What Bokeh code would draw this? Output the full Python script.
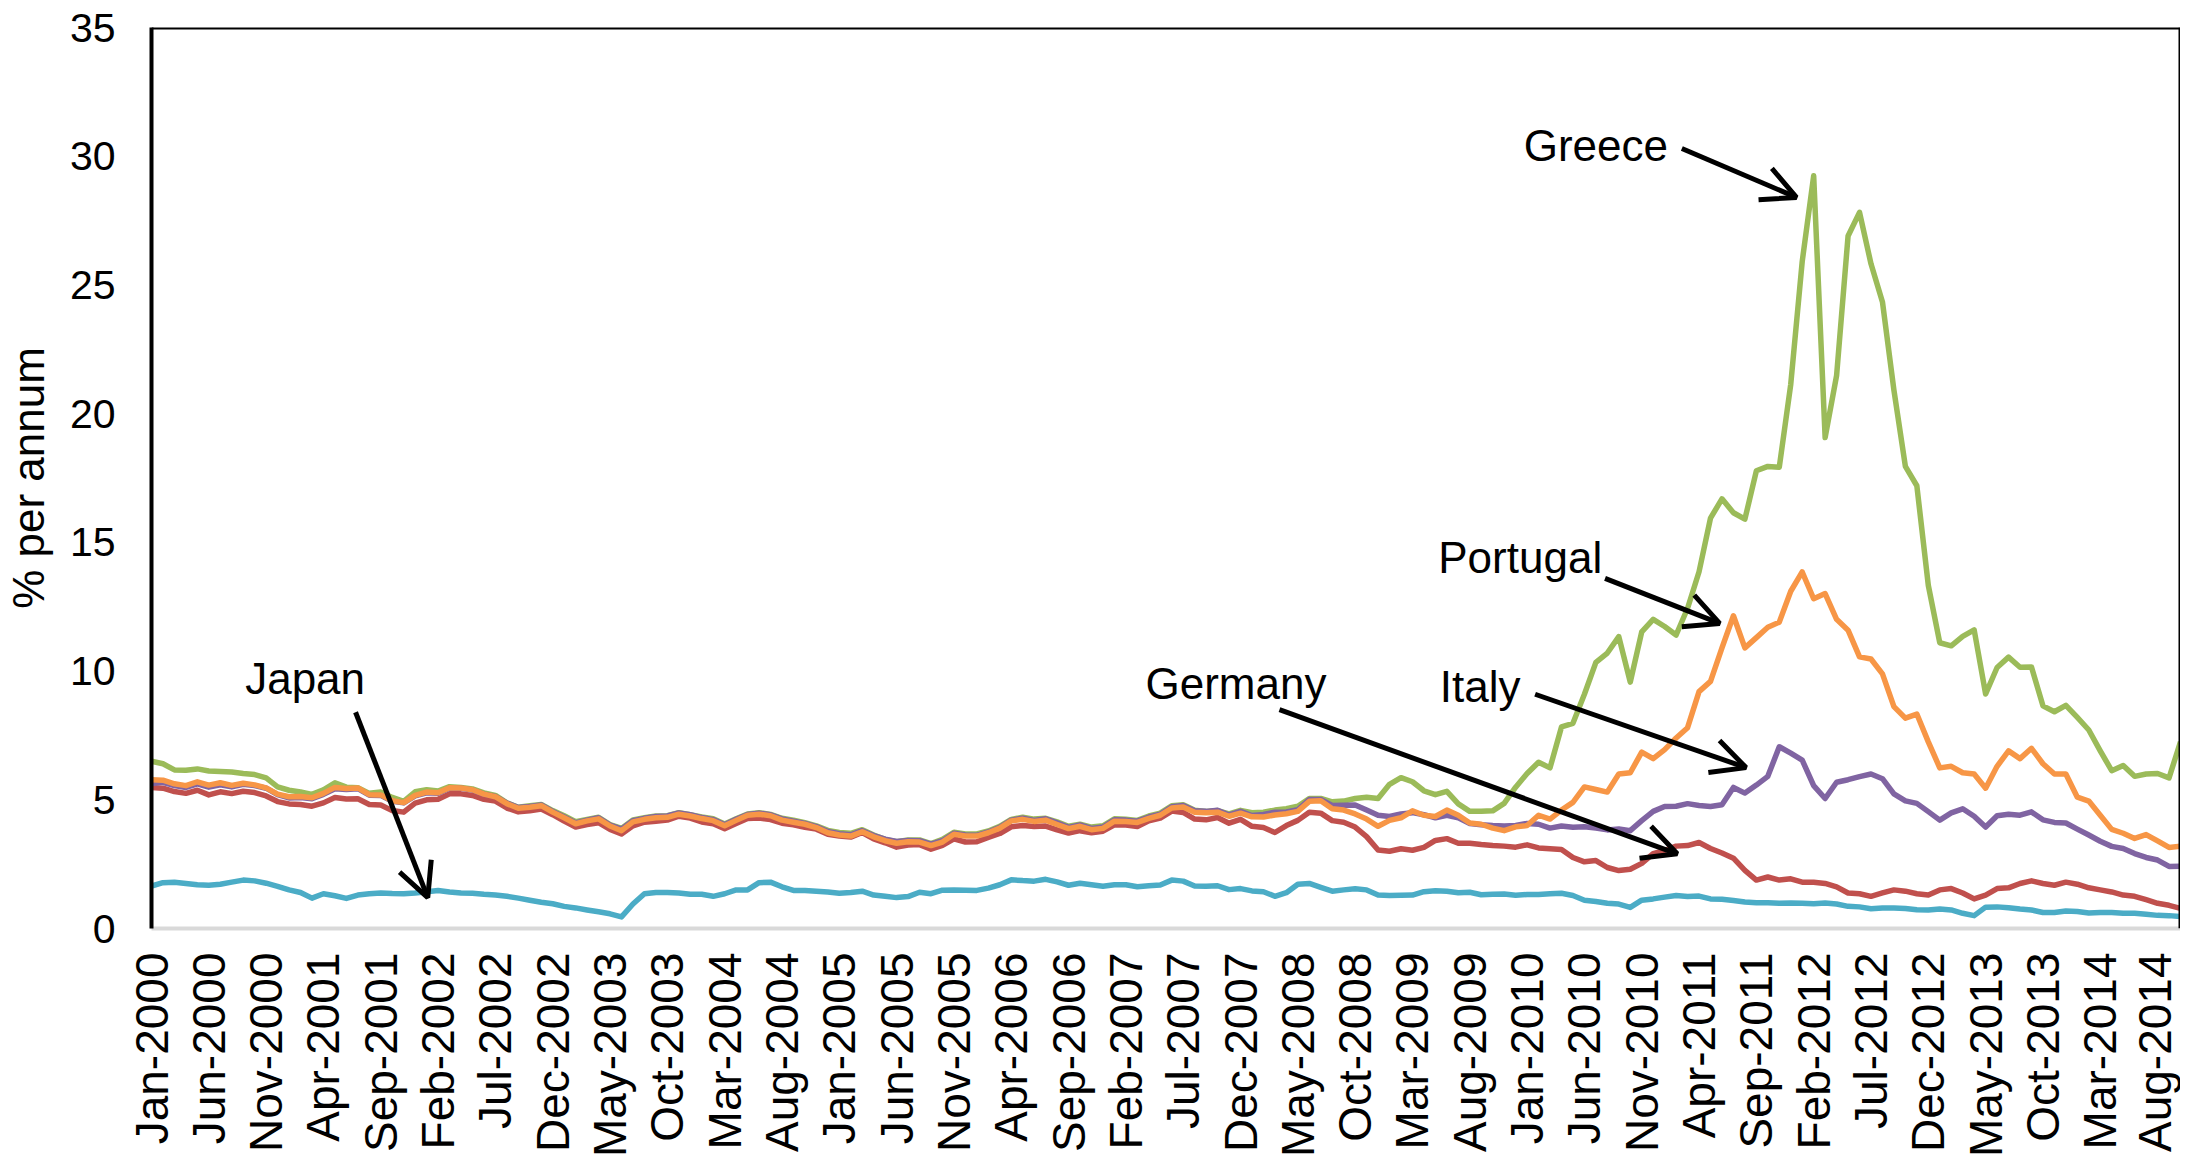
import math
import pandas as pd
from bokeh.plotting import figure
from bokeh.models import Range1d, FixedTicker, Span, Arrow, OpenHead, Label
from bokeh.core.properties import value
from bokeh.embed import file_html
from bokeh.resources import INLINE

# ---------------- data (monthly, Jan-2000 .. Oct-2014), % per annum ----------------
MONTHS = [d.strftime("%b-%Y") for d in pd.date_range("2000-01-01", "2014-10-01", freq="MS")]

GERMANY = [
    5.48, 5.45, 5.32, 5.25, 5.37, 5.19, 5.31, 5.24, 5.33, 5.28, 5.15, 4.93,
    4.84, 4.82, 4.75, 4.88, 5.09, 5.03, 5.04, 4.82, 4.80, 4.58, 4.52, 4.87,
    5.00, 5.02, 5.23, 5.23, 5.17, 5.02, 4.95, 4.68, 4.53, 4.57, 4.64, 4.42,
    4.17, 3.94, 4.04, 4.11, 3.85, 3.67, 3.99, 4.13, 4.17, 4.21, 4.36, 4.29,
    4.14, 4.07, 3.88, 4.08, 4.27, 4.29, 4.23, 4.09, 4.03, 3.93, 3.86, 3.66,
    3.59, 3.55, 3.73, 3.48, 3.33, 3.16, 3.24, 3.26, 3.08, 3.23, 3.48, 3.36,
    3.37, 3.54, 3.69, 3.95, 4.00, 3.96, 3.98, 3.83, 3.71, 3.80, 3.72, 3.78,
    4.03, 4.02, 3.96, 4.18, 4.29, 4.56, 4.51, 4.25, 4.22, 4.31, 4.09, 4.24,
    3.97, 3.92, 3.73, 4.00, 4.20, 4.52, 4.48, 4.19, 4.13, 3.94, 3.57, 3.05,
    3.00, 3.10, 3.04, 3.15, 3.42, 3.49, 3.31, 3.31, 3.26, 3.22, 3.20, 3.16,
    3.25, 3.13, 3.10, 3.07, 2.76, 2.59, 2.64, 2.37, 2.25, 2.30, 2.53, 2.91,
    3.03, 3.20, 3.22, 3.34, 3.11, 2.93, 2.73, 2.26, 1.88, 2.00, 1.88, 1.93,
    1.80, 1.80, 1.75, 1.62, 1.38, 1.35, 1.25, 1.38, 1.50, 1.45, 1.35, 1.30,
    1.50, 1.55, 1.38, 1.15, 1.30, 1.55, 1.58, 1.75, 1.85, 1.75, 1.68, 1.80,
    1.72, 1.58, 1.50, 1.42, 1.30, 1.25, 1.12, 0.98, 0.90, 0.78,
]

GREECE = [
    6.50, 6.40, 6.16, 6.15, 6.20, 6.12, 6.10, 6.08, 6.02, 5.98, 5.85, 5.50,
    5.37, 5.30, 5.21, 5.39, 5.66, 5.49, 5.47, 5.25, 5.30, 5.09, 4.94, 5.31,
    5.39, 5.34, 5.51, 5.48, 5.42, 5.27, 5.17, 4.88, 4.71, 4.77, 4.82, 4.58,
    4.38, 4.15, 4.24, 4.32, 4.04, 3.89, 4.22, 4.30, 4.37, 4.38, 4.50, 4.42,
    4.33, 4.26, 4.06, 4.26, 4.45, 4.50, 4.43, 4.28, 4.21, 4.11, 3.99, 3.81,
    3.73, 3.70, 3.84, 3.63, 3.46, 3.37, 3.44, 3.44, 3.30, 3.46, 3.74, 3.67,
    3.67, 3.79, 3.97, 4.24, 4.32, 4.25, 4.28, 4.14, 3.97, 4.05, 3.94, 3.99,
    4.26, 4.24, 4.20, 4.37, 4.48, 4.77, 4.81, 4.59, 4.55, 4.58, 4.45, 4.59,
    4.50, 4.52, 4.60, 4.65, 4.75, 5.05, 5.05, 4.92, 4.95, 5.05, 5.10, 5.05,
    5.60, 5.86, 5.70, 5.35, 5.20, 5.33, 4.84, 4.55, 4.55, 4.57, 4.86, 5.49,
    6.02, 6.46, 6.24, 7.83, 7.97, 9.10, 10.34, 10.70, 11.34, 9.57, 11.52, 12.01,
    11.73, 11.40, 12.44, 13.86, 15.94, 16.69, 16.15, 15.90, 17.78, 17.95, 17.92, 21.14,
    25.91, 29.24, 19.07, 21.48, 26.90, 27.82, 25.82, 24.34, 20.91, 17.95, 17.20, 13.33,
    11.10, 10.98, 11.35, 11.60, 9.11, 10.14, 10.54, 10.15, 10.16, 8.65, 8.42, 8.67,
    8.20, 7.71, 6.90, 6.13, 6.33, 5.91, 6.00, 6.02, 5.85, 7.25,
]

ITALY = [
    5.63, 5.68, 5.55, 5.48, 5.62, 5.49, 5.58, 5.50, 5.60, 5.55, 5.45, 5.20,
    5.07, 5.09, 5.04, 5.21, 5.43, 5.40, 5.43, 5.18, 5.17, 4.94, 4.88, 5.15,
    5.27, 5.25, 5.45, 5.45, 5.38, 5.22, 5.13, 4.87, 4.70, 4.74, 4.80, 4.55,
    4.33, 4.10, 4.21, 4.30, 4.02, 3.86, 4.19, 4.28, 4.35, 4.37, 4.49, 4.42,
    4.31, 4.23, 4.03, 4.24, 4.43, 4.48, 4.42, 4.26, 4.17, 4.08, 3.96, 3.77,
    3.68, 3.64, 3.80, 3.61, 3.47, 3.38, 3.42, 3.41, 3.28, 3.41, 3.70, 3.63,
    3.62, 3.75, 3.93, 4.21, 4.28, 4.20, 4.26, 4.10, 3.93, 4.02, 3.89, 3.94,
    4.22, 4.21, 4.17, 4.33, 4.44, 4.73, 4.78, 4.57, 4.55, 4.59, 4.41, 4.55,
    4.39, 4.43, 4.52, 4.53, 4.61, 5.01, 5.01, 4.78, 4.79, 4.80, 4.60, 4.40,
    4.35, 4.45, 4.50, 4.42, 4.30, 4.40, 4.30, 4.08, 4.03, 4.00, 3.98, 4.00,
    4.08, 4.05, 3.90, 3.98, 3.93, 3.95, 3.90, 3.83, 3.87, 3.80, 4.19, 4.55,
    4.74, 4.75, 4.85, 4.78, 4.74, 4.81, 5.48, 5.26, 5.57, 5.91, 7.06, 6.81,
    6.54, 5.55, 5.05, 5.68, 5.78, 5.90, 6.00, 5.82, 5.23, 4.96, 4.86, 4.54,
    4.21, 4.49, 4.65, 4.36, 3.94, 4.38, 4.44, 4.40, 4.53, 4.22, 4.12, 4.10,
    3.86, 3.63, 3.39, 3.19, 3.11, 2.91, 2.76, 2.66, 2.41, 2.42,
]

JAPAN = [
    1.65, 1.78, 1.80, 1.75, 1.70, 1.68, 1.72, 1.80, 1.88, 1.85, 1.76, 1.64,
    1.50, 1.40, 1.18, 1.35, 1.27, 1.17, 1.30, 1.35, 1.38, 1.36, 1.35, 1.38,
    1.43, 1.48, 1.42, 1.38, 1.37, 1.33, 1.30, 1.25, 1.18, 1.10, 1.02, 0.96,
    0.86, 0.80, 0.72, 0.65, 0.57, 0.45, 0.95, 1.35, 1.40, 1.40, 1.38, 1.33,
    1.33, 1.25, 1.35, 1.50, 1.50, 1.78, 1.80, 1.62, 1.48, 1.48, 1.45, 1.42,
    1.37, 1.40, 1.45, 1.30, 1.25, 1.20, 1.24, 1.41, 1.35, 1.49, 1.50, 1.49,
    1.48, 1.57, 1.70, 1.89, 1.86, 1.84, 1.91, 1.81, 1.68, 1.76, 1.70, 1.64,
    1.70, 1.70, 1.62, 1.66, 1.69, 1.88, 1.84, 1.65, 1.64, 1.66, 1.51, 1.55,
    1.46, 1.43, 1.25, 1.39, 1.72, 1.75, 1.60, 1.45, 1.50, 1.54, 1.50, 1.30,
    1.28, 1.29, 1.30, 1.43, 1.47, 1.45, 1.39, 1.41, 1.31, 1.33, 1.34, 1.29,
    1.32, 1.32, 1.35, 1.37, 1.28, 1.10, 1.05, 0.98, 0.95, 0.82, 1.10, 1.15,
    1.22, 1.28, 1.24, 1.26, 1.15, 1.14, 1.09, 1.03, 1.00, 1.00, 0.98, 0.99,
    0.98, 0.96, 0.99, 0.95, 0.86, 0.84, 0.77, 0.80, 0.80, 0.78, 0.73, 0.72,
    0.76, 0.72, 0.59, 0.50, 0.83, 0.84, 0.81, 0.76, 0.72, 0.62, 0.62, 0.68,
    0.66, 0.60, 0.62, 0.62, 0.59, 0.59, 0.55, 0.51, 0.50, 0.46,
]

PORTUGAL = [
    5.78, 5.76, 5.62, 5.55, 5.70, 5.57, 5.66, 5.56, 5.64, 5.58, 5.46, 5.22,
    5.12, 5.13, 5.08, 5.25, 5.48, 5.44, 5.46, 5.20, 5.19, 4.96, 4.89, 5.17,
    5.30, 5.27, 5.47, 5.46, 5.39, 5.22, 5.12, 4.85, 4.67, 4.71, 4.77, 4.52,
    4.30, 4.07, 4.18, 4.26, 3.98, 3.80, 4.14, 4.24, 4.30, 4.32, 4.44, 4.37,
    4.27, 4.19, 3.99, 4.20, 4.40, 4.44, 4.38, 4.21, 4.13, 4.05, 3.92, 3.72,
    3.63, 3.59, 3.76, 3.56, 3.41, 3.31, 3.37, 3.36, 3.22, 3.36, 3.66, 3.59,
    3.59, 3.72, 3.90, 4.18, 4.24, 4.16, 4.21, 4.04, 3.88, 3.97, 3.84, 3.89,
    4.17, 4.16, 4.12, 4.28, 4.40, 4.68, 4.72, 4.52, 4.50, 4.52, 4.36, 4.48,
    4.34, 4.33, 4.41, 4.46, 4.55, 4.94, 4.96, 4.65, 4.60, 4.45, 4.25, 3.97,
    4.20, 4.30, 4.57, 4.40, 4.35, 4.60, 4.40, 4.10, 4.05, 3.90, 3.80, 3.95,
    4.00, 4.40, 4.25, 4.60, 4.90, 5.50, 5.40, 5.30, 6.00, 6.05, 6.85, 6.60,
    6.95, 7.40, 7.80, 9.20, 9.60, 10.90, 12.15, 10.90, 11.30, 11.70, 11.90, 13.10,
    13.85, 12.81, 13.01, 12.01, 11.59, 10.55, 10.47, 9.89, 8.62, 8.17, 8.33, 7.25,
    6.24, 6.30, 6.05, 6.00, 5.45, 6.30, 6.90, 6.60, 7.00, 6.40, 6.00, 6.00,
    5.10, 4.95, 4.40, 3.85, 3.70, 3.50, 3.65, 3.40, 3.15, 3.20,
]

SERIES = [  # drawing order (last on top)
    ("Germany", GERMANY, "#C0504D"),
    ("Greece", GREECE, "#9BBB59"),
    ("Italy", ITALY, "#8064A2"),
    ("Japan", JAPAN, "#4BACC6"),
    ("Portugal", PORTUGAL, "#F79646"),
]

TICK_LABELS = [
    "Jan-2000", "Jun-2000", "Nov-2000", "Apr-2001", "Sep-2001", "Feb-2002",
    "Jul-2002", "Dec-2002", "May-2003", "Oct-2003", "Mar-2004", "Aug-2004",
    "Jan-2005", "Jun-2005", "Nov-2005", "Apr-2006", "Sep-2006", "Feb-2007",
    "Jul-2007", "Dec-2007", "May-2008", "Oct-2008", "Mar-2009", "Aug-2009",
    "Jan-2010", "Jun-2010", "Nov-2010", "Apr-2011", "Sep-2011", "Feb-2012",
    "Jul-2012", "Dec-2012", "May-2013", "Oct-2013", "Mar-2014", "Aug-2014",
]
Y_TICKS = [0, 5, 10, 15, 20, 25, 30, 35]

# ---------------- figure ----------------
FONT = "Liberation Sans"
x = list(range(len(MONTHS)))
tick_pos = [MONTHS.index(t) for t in TICK_LABELS]

p = figure(width=2180, height=1160, output_backend="svg", toolbar_location=None,
           x_range=Range1d(0, len(MONTHS) - 1), y_range=Range1d(0, 35),
           min_border_left=147, min_border_right=0, min_border_top=27,
           min_border_bottom=220)
p.grid.visible = False
p.outline_line_color = None
p.background_fill_color = "white"
p.border_fill_color = "white"

for name, vals, col in SERIES:
    p.line(x, vals, line_color=col, line_width=5.5, line_join="round")

# axes
ya = p.yaxis[0]
ya.ticker = FixedTicker(ticks=Y_TICKS)
ya.axis_line_color = "black"
ya.axis_line_width = 4
ya.major_tick_line_color = None
ya.minor_tick_line_color = None
ya.major_tick_out = 0
ya.major_tick_in = 0
ya.major_label_text_font = FONT
ya.major_label_text_font_size = "41px"
ya.major_label_text_color = "black"
ya.major_label_standoff = 36
ya.axis_label = "% per annum"
ya.axis_label_text_font = FONT
ya.axis_label_text_font_size = "44px"
ya.axis_label_text_font_style = "normal"
ya.axis_label_text_color = "black"
ya.axis_label_standoff = 14

xa = p.xaxis[0]
xa.ticker = FixedTicker(ticks=tick_pos)
xa.major_label_overrides = {pos: lab for pos, lab in zip(tick_pos, TICK_LABELS)}
xa.major_label_orientation = math.pi / 2
xa.axis_line_color = "#D9D9D9"
xa.axis_line_width = 4
xa.major_tick_line_color = None
xa.minor_tick_line_color = None
xa.major_tick_out = 0
xa.major_tick_in = 0
xa.major_label_text_font = FONT
xa.major_label_text_font_size = "46px"
xa.major_label_text_color = "black"
xa.major_label_standoff = 24

# frame top and right
p.add_layout(Span(location=35, dimension="width", line_color="black", line_width=4))
p.add_layout(Span(location=len(MONTHS) - 1, dimension="height", line_color="black", line_width=4))

# annotations: (text, text_x, text_y, arrow_x0, arrow_y0, arrow_x1, arrow_y1)
ANNOT = [
    ("Greece", 126.0, 30.4, 133.5, 30.3, 143.5, 28.4),
    ("Portugal", 119.4, 14.4, 126.8, 13.6, 136.8, 11.85),
    ("Italy", 115.9, 9.4, 120.7, 9.1, 139.1, 6.25),
    ("Germany", 94.6, 9.5, 98.4, 8.5, 133.1, 2.9),
    ("Japan", 13.4, 9.7, 17.8, 8.4, 24.1, 1.2),
]
for t, tx, ty, ax0, ay0, ax1, ay1 in ANNOT:
    p.add_layout(Label(x=tx, y=ty, text=t, text_font=FONT, text_font_size="44px",
                       text_color="black", text_align="center", text_baseline="middle"))
    p.add_layout(Arrow(end=OpenHead(size=34, line_width=5, line_color="black"),
                       x_start=ax0, y_start=ay0, x_end=ax1, y_end=ay1,
                       line_width=5, line_color="black"))

open("out.html", "w").write(file_html(p, INLINE))
